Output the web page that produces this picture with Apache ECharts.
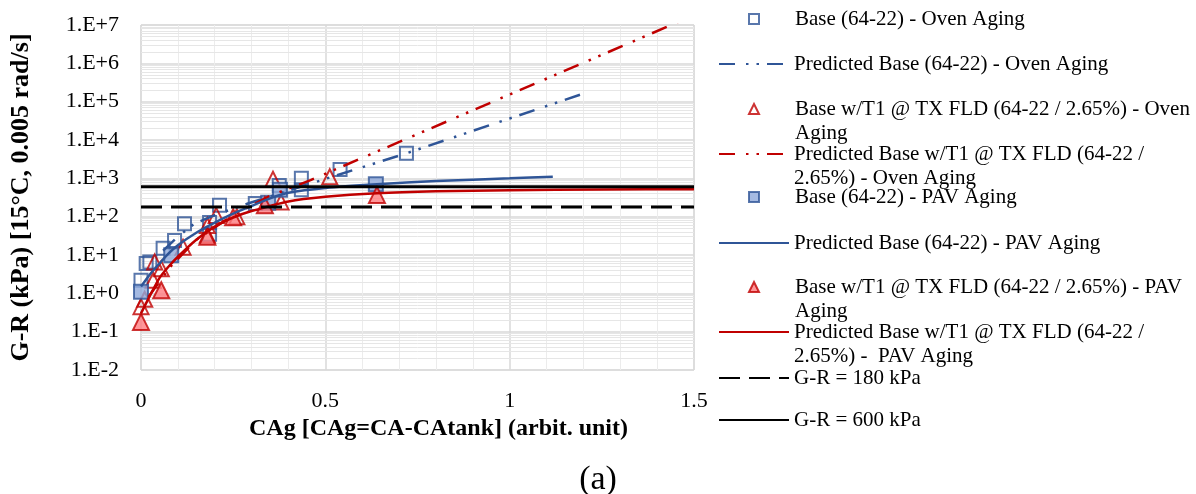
<!DOCTYPE html>
<html>
<head>
<meta charset="utf-8">
<script src="https://cdn.jsdelivr.net/npm/echarts@6/dist/echarts.min.js"></script>
<style>
  html, body { margin: 0; padding: 0; background: #fff; }
  #chart1 { width: 1196px; height: 494px; }
</style>
</head>
<body>
<div id="chart1"></div>
<script>
var ovenBaseX = [0, 0.014, 0.024, 0.06, 0.091, 0.118, 0.186, 0.186, 0.213, 0.31, 0.375, 0.435, 0.435, 0.54, 0.72];
var ovenBaseY = [2.2, 6, 6.6, 15, 24, 65, 35, 70, 200, 220, 650, 1000, 500, 1700, 4500];
var ovenT1X = [0, 0.01, 0.033, 0.037, 0.055, 0.114, 0.18, 0.18, 0.204, 0.26, 0.358, 0.38, 0.512];
var ovenT1Y = [0.45, 0.7, 2.2, 6.6, 4.4, 16, 33, 59, 108, 100, 950, 240, 1100];
var pavBaseX = [0, 0.082, 0.345, 0.377, 0.637];
var pavBaseY = [1.1, 9.8, 230, 500, 700];
var pavT1X = [0, 0.055, 0.18, 0.25, 0.336, 0.64];
var pavT1Y = [0.18, 1.2, 30, 97, 200, 370];

// predicted curves
var predOvenBaseX = [0.06, 0.1, 0.145, 0.2, 0.29, 0.45, 0.72, 1.203];
var predOvenBaseY = [13, 30, 66, 110, 220, 680, 4500, 166000];
var predOvenT1X = [0.02, 0.08, 0.15, 0.25, 0.35, 0.46, 1.5];
var predOvenT1Y = [0.8, 5, 25, 110, 350, 900, 18000000];
var predPavBaseX = [0, 0.025, 0.05, 0.075, 0.1, 0.15, 0.2, 0.25, 0.3, 0.35, 0.4, 0.5, 0.64, 0.8, 1.0, 1.117];
var predPavBaseY = [1.5, 3.2, 6, 11, 18, 38, 70, 120, 190, 300, 420, 560, 700, 850, 1000, 1100];
var predPavT1X = [0, 0.025, 0.05, 0.075, 0.1, 0.15, 0.2, 0.25, 0.3, 0.4, 0.5, 0.64, 0.8, 1.0, 1.25, 1.5];
var predPavT1Y = [0.3, 0.9, 2.5, 5, 9, 25, 55, 95, 140, 250, 330, 410, 460, 490, 510, 520];

// limit lines
var limitX = [0, 1.5];
var limit180 = [180, 180];
var limit600 = [600, 600];

var seriesNames = [
	'Base (64-22) - Oven Aging',
	'Predicted Base (64-22) - Oven Aging',
	'Base w/T1 @ TX FLD (64-22 / 2.65%) - Oven Aging',
	'Predicted Base w/T1 @ TX FLD (64-22 / 2.65%) - Oven Aging',
	'Base (64-22) - PAV Aging',
	'Predicted Base (64-22) - PAV Aging',
	'Base w/T1 @ TX FLD (64-22 / 2.65%) - PAV Aging',
	'Predicted Base w/T1 @ TX FLD (64-22 / 2.65%) -  PAV Aging',
	'G-R = 180 kPa',
	'G-R = 600 kPa'
];
// how each legend label wraps in the picture
var legendLines = [
	['Base (64-22) - Oven Aging'],
	['Predicted Base (64-22) - Oven Aging'],
	['Base w/T1 @ TX FLD (64-22 / 2.65%) - Oven', 'Aging'],
	['Predicted Base w/T1 @ TX FLD (64-22 /', '2.65%) - Oven Aging'],
	['Base (64-22) - PAV Aging'],
	['Predicted Base (64-22) - PAV Aging'],
	['Base w/T1 @ TX FLD (64-22 / 2.65%) - PAV', 'Aging'],
	['Predicted Base w/T1 @ TX FLD (64-22 /', '2.65%) -  PAV Aging'],
	['G-R = 180 kPa'],
	['G-R = 600 kPa']
];

function pairs(xs, ys) {
	return xs.map(function (x, i) { return [x, ys[i]]; });
}

const blue = '#2F5597';
const red = '#C00000';
const serif = 'Liberation Serif';
const dashDotDot = [16, 11, 2.5, 8, 2.5, 8];

// log minor grid lines (2..9 in every decade)
var minorGrid = [];
for (var e = -2; e < 7; e++) {
	for (var k = 2; k < 10; k++) {
		minorGrid.push({ yAxis: k * Math.pow(10, e) });
	}
}

var line1 = echarts.init(document.getElementById('chart1'));

// icon centre y of every legend entry
var legendY = [17, 62, 107, 152, 195, 241, 285, 330, 376, 418];
var legends = seriesNames.map(function (name, i) {
	var lines = legendLines[i];
	var twoLines = lines.length > 1;
	var isMarker = (i === 0 || i === 2 || i === 4 || i === 6);
	var spacer = isMarker ? '{s|}' : '';
	// an empty first line keeps the icon level with the first text line
	var text = (twoLines ? '\n' : '') + lines.map(function (l) { return spacer + l; }).join('\n');
	return {
		data: [name],
		left: isMarker ? 748 : 718,
		top: twoLines ? legendY[i] - 34 : legendY[i] - 10,
		padding: 0,
		itemWidth: isMarker ? 10 : 70,
		itemHeight: isMarker ? 10 : 14,
		selectedMode: false,
		itemStyle: isMarker ? {} : { opacity: 0, borderWidth: 0 },
		formatter: function () { return text; },
		textStyle: {
			fontFamily: serif,
			fontSize: 21,
			color: '#000',
			lineHeight: 24,
			rich: { s: { width: 31 } }
		}
	};
});

option = {
	backgroundColor: '#fff',
	animation: false,
	title: {
		text: '(a)',
		left: 'center',
		top: 458,
		textStyle: { fontFamily: serif, fontSize: 34, fontWeight: 'normal', color: '#000' }
	},
	legend: legends,
	grid: {
		left: 141,
		right: 502,
		top: 25,
		bottom: 124,
		show: true,
		borderColor: '#d9d9d9',
		borderWidth: 1
	},
	xAxis: {
		type: 'value',
		min: 0,
		max: 1.5,
		interval: 0.5,
		name: 'CAg [CAg=CA-CAtank] (arbit. unit)',
		nameLocation: 'middle',
		nameGap: 46,
		nameTextStyle: { fontFamily: serif, fontSize: 24, fontWeight: 'bold', color: '#000', padding: [0, 0, 0, 42] },
		axisLine: { show: false },
		axisTick: { show: false },
		axisLabel: {
			margin: 20,
			fontFamily: serif,
			fontSize: 22,
			color: '#000',
			formatter: function (v) { return String(v); }
		},
		splitLine: { show: true, lineStyle: { color: '#d9d9d9', width: 1.5 } },
		minorTick: { show: false, splitNumber: 5 },
		minorSplitLine: { show: true, lineStyle: { color: '#ececec', width: 1 } }
	},
	yAxis: {
		type: 'log',
		logBase: 10,
		min: 0.01,
		max: 10000000,
		splitNumber: 9,
		name: 'G-R (kPa) [15°C, 0.005 rad/s]',
		nameLocation: 'middle',
		nameGap: 107,
		nameTextStyle: { fontFamily: serif, fontSize: 26, fontWeight: 'bold', color: '#000' },
		axisLine: { show: false },
		axisTick: { show: false },
		axisLabel: {
			margin: 22,
			fontFamily: serif,
			fontSize: 22,
			color: '#000',
			formatter: function (v) {
				var p = Math.round(Math.log10(v));
				return '1.E' + (p < 0 ? '-' : '+') + Math.abs(p);
			}
		},
		splitLine: { show: true, lineStyle: { color: '#d9d9d9', width: 1.5 } }
	},
	series: [{
		name: seriesNames[0],
		type: 'scatter',
		symbol: 'rect',
		symbolSize: 13,
		itemStyle: { color: 'rgba(255,255,255,0)', borderColor: blue, borderWidth: 2 },
		data: pairs(ovenBaseX, ovenBaseY),
		markLine: {
			z: 1,
			silent: true,
			symbol: 'none',
			label: { show: false },
			lineStyle: { color: '#e6e6e6', type: 'solid', width: 1 },
			data: minorGrid
		}
	}, {
		name: seriesNames[1],
		type: 'line',
		showSymbol: false,
		symbol: 'none',
		lineStyle: { color: blue, width: 2.5, type: dashDotDot },
		itemStyle: { color: blue },
		data: pairs(predOvenBaseX, predOvenBaseY)
	}, {
		name: seriesNames[2],
		type: 'scatter',
		symbol: 'triangle',
		symbolSize: 15,
		itemStyle: { color: 'rgba(255,255,255,0)', borderColor: red, borderWidth: 2 },
		data: pairs(ovenT1X, ovenT1Y)
	}, {
		name: seriesNames[3],
		type: 'line',
		showSymbol: false,
		symbol: 'none',
		lineStyle: { color: red, width: 2.5, type: dashDotDot },
		itemStyle: { color: red },
		data: pairs(predOvenT1X, predOvenT1Y)
	}, {
		name: seriesNames[4],
		type: 'scatter',
		symbol: 'rect',
		symbolSize: 14,
		itemStyle: { color: '#8EA9DB', borderColor: blue, borderWidth: 2 },
		data: pairs(pavBaseX, pavBaseY)
	}, {
		name: seriesNames[5],
		type: 'line',
		smooth: 0.2,
		showSymbol: false,
		symbol: 'none',
		lineStyle: { color: blue, width: 2.5 },
		itemStyle: { color: blue },
		data: pairs(predPavBaseX, predPavBaseY)
	}, {
		name: seriesNames[6],
		type: 'scatter',
		symbol: 'triangle',
		symbolSize: 16,
		itemStyle: { color: '#FF7C80', borderColor: red, borderWidth: 2 },
		data: pairs(pavT1X, pavT1Y)
	}, {
		name: seriesNames[7],
		type: 'line',
		smooth: 0.2,
		showSymbol: false,
		symbol: 'none',
		lineStyle: { color: red, width: 2.5 },
		itemStyle: { color: red },
		data: pairs(predPavT1X, predPavT1Y)
	}, {
		name: seriesNames[8],
		type: 'line',
		showSymbol: false,
		symbol: 'none',
		lineStyle: { color: '#000', width: 3, type: [21, 9] },
		itemStyle: { color: '#000' },
		data: pairs(limitX, limit180)
	}, {
		name: seriesNames[9],
		type: 'line',
		showSymbol: false,
		symbol: 'none',
		lineStyle: { color: '#000', width: 3 },
		itemStyle: { color: '#000' },
		data: pairs(limitX, limit600)
	}]
};

line1.setOption(option);

window.onresize = function() {
	line1.resize();
}
</script>
</body>
</html>
